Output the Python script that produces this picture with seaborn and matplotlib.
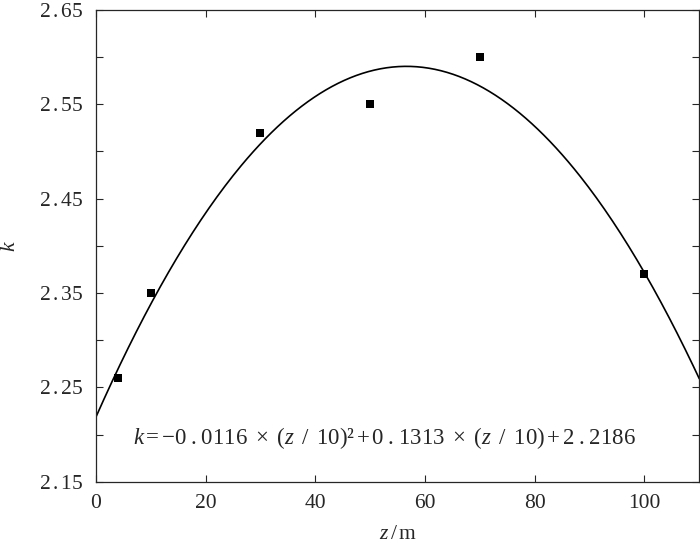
import numpy as np
import pandas as pd
import matplotlib
matplotlib.use("Agg")
import matplotlib.pyplot as plt
import seaborn as sns

# measured points
z_obs = [4, 10, 30, 50, 70, 100]
k_obs = [2.26, 2.35, 2.52, 2.55, 2.60, 2.37]

# fitted curve coefficients, as printed on the chart
fit_a = -0.0116
fit_b = 0.1313
fit_c = 2.2186

x_ticks = [0, 20, 40, 60, 80, 100]
y_ticks = [2.15, 2.25, 2.35, 2.45, 2.55, 2.65]
y_minor = [2.20, 2.30, 2.40, 2.50, 2.60]


def loose(s, gap=r"\,"):
    # the source typesets the decimal point with extra room
    return s.replace(".", f"${gap}$.${gap}$")


sns.set_style("ticks")
plt.rcParams["font.family"] = ["Liberation Serif", "DejaVu Serif"]
plt.rcParams["mathtext.fontset"] = "custom"
plt.rcParams["mathtext.rm"] = "Liberation Serif"
plt.rcParams["mathtext.it"] = "Liberation Serif:italic"

pts = pd.DataFrame({"z": z_obs, "k": k_obs})
zz = np.linspace(0, 110, 300)
curve = pd.DataFrame({"z": zz, "k": fit_a * (zz / 10) ** 2 + fit_b * (zz / 10) + fit_c})

fig = plt.figure(figsize=(7, 5.47), dpi=100)
ax = fig.add_axes([0.137, 0.119, 0.862, 0.863])

sns.lineplot(data=curve, x="z", y="k", color="black", linewidth=1.2, ax=ax)
sns.scatterplot(data=pts, x="z", y="k", marker="s", s=40, color="black",
                edgecolor="black", linewidth=0, ax=ax, zorder=3)

ax.set_xlim(0, 110)
ax.set_ylim(2.15, 2.65)
ax.set_xticks(x_ticks)
ax.set_yticks(y_ticks)
ax.set_yticks(y_minor, minor=True)
ax.set_yticklabels([loose(f"{v:.2f}") for v in y_ticks])
ax.tick_params(which="both", direction="in", top=True, right=True,
               length=5, width=0.8, labelsize=15.5, pad=9)
for sp in ax.spines.values():
    sp.set_linewidth(0.9)
    sp.set_visible(True)

ax.set_xlabel(r"$z\,$/$\,$m", fontsize=15.5, labelpad=8)
ax.set_ylabel(r"$k$", fontsize=15.5)
ax.yaxis.set_label_coords(-0.125, 0.5)

op = lambda c: r"$\,$" + c + r"$\,$"
wide = lambda c: r" $\,$" + c + r"$\,$ "
eq = (r"$k$" + op("=") + "−" + loose(f"{abs(fit_a):.4f}", r"\;")
      + wide("×") + "($z$" + wide("/") + "10)²" + op("+")
      + loose(f"{fit_b:.4f}", r"\;")
      + wide("×") + "($z$" + wide("/") + "10)" + op("+")
      + loose(f"{fit_c:.4f}", r"\;"))
ax.text(6.8, 2.196, eq, fontsize=16.5, ha="left", va="center")

fig.savefig("out.png", dpi=100)
